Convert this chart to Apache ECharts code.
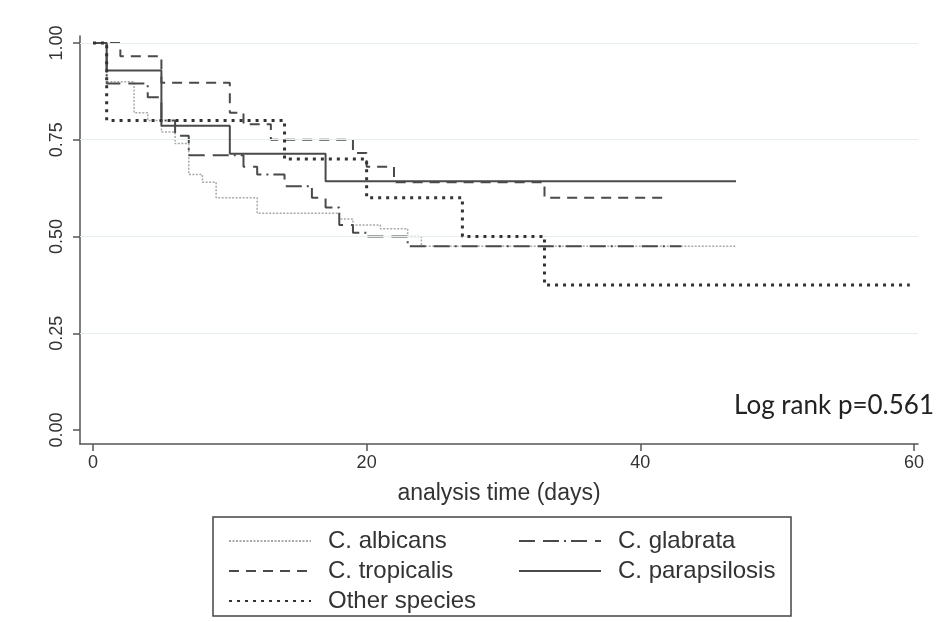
<!DOCTYPE html>
<html>
<head>
<meta charset="utf-8">
<script src="https://cdn.jsdelivr.net/npm/echarts@6/dist/echarts.min.js"></script>
<style>
html, body { margin: 0; padding: 0; background: #fff; }
#chart { width: 947px; height: 622px; }
</style>
</head>
<body>
<div id="chart"></div>
<script>
// Kaplan-Meier steps, [day, survival]
let albicans = [[0, 1], [1, 0.90], [3, 0.82], [4, 0.80], [5, 0.77], [6, 0.74], [7, 0.66], [8, 0.64], [9, 0.60], [12, 0.56], [18, 0.545], [19, 0.53], [21, 0.52], [23, 0.50], [24, 0.475], [47, 0.475]];
let glabrata = [[0, 1], [1, 0.895], [4, 0.86], [5, 0.80], [6, 0.76], [7, 0.71], [11, 0.68], [12, 0.66], [14, 0.63], [16, 0.60], [17, 0.575], [18, 0.53], [19, 0.51], [20, 0.50], [23, 0.475], [43, 0.475]];
let tropicalis = [[0, 1], [2, 0.966], [5, 0.897], [10, 0.82], [11, 0.79], [13, 0.75], [19, 0.716], [20, 0.68], [22, 0.64], [33, 0.60], [42, 0.60]];
let parapsilosis = [[0, 1], [1, 0.929], [5, 0.786], [10, 0.714], [17, 0.643], [47, 0.643]];
let otherSpecies = [[0, 1], [1, 0.80], [14, 0.70], [20, 0.60], [27, 0.50], [33, 0.375], [59.7, 0.375]];

let xTicks = [0, 20, 40, 60];
let yTicks = [0, 0.25, 0.5, 0.75, 1];
let gridValues = [0.25, 0.5, 0.75, 1];

let font = "'Liberation Sans', Arial, sans-serif";

function kmSeries(name, data, color, width, dash, z) {
    return {
        name: name,
        type: 'line',
        step: 'end',
        data: data,
        symbol: 'none',
        showSymbol: false,
        z: z,
        lineStyle: { color: color, width: width, type: dash },
        itemStyle: { color: color }
    };
}

let series = [
    kmSeries('C. albicans', albicans, '#a9a9a9', 1.5, [2, 1.5], 2),
    kmSeries('C. glabrata', glabrata, '#4a4a4a', 2, [16, 8, 16, 5, 2, 5], 3),
    kmSeries('C. tropicalis', tropicalis, '#4a4a4a', 2, [10, 7], 4),
    kmSeries('C. parapsilosis', parapsilosis, '#4a4a4a', 2, 'solid', 5),
    kmSeries('Other species', otherSpecies, '#333', 3, [3, 5], 6)
];

series[0].markLine = {
    silent: true,
    symbol: ['none', 'none'],
    label: { show: false },
    lineStyle: { color: '#e6eeee', width: 1, type: 'solid' },
    data: gridValues.map(v => ({ yAxis: v }))
};

let legendText = { fontSize: 24, color: '#333', fontFamily: font, padding: [0, 0, 0, 12], lineHeight: 20 };

let option = {
    animation: false,
    backgroundColor: '#fff',
    grid: { left: 80, right: 29, top: 36, bottom: 178, outerBoundsMode: 'none' },
    title: {
        text: 'Log rank p=0.561',
        right: 8,
        top: 388,
        textStyle: { fontFamily: 'Lato, sans-serif', fontSize: 26, fontWeight: 'normal', color: '#222' }
    },
    legend: [
        {
            left: 213, top: 517,
            height: 120,
            orient: 'vertical',
            data: ['C. albicans', 'C. tropicalis', 'Other species'],
            itemWidth: 82, itemHeight: 14, itemGap: 6,
            padding: [12, 293, 3, 15],
            borderColor: '#444', borderWidth: 1.5,
            selectedMode: false,
            itemStyle: { opacity: 0 },
            textStyle: Object.assign({ width: 170 }, legendText)
        },
        {
            left: 518, top: 529,
            height: 120,
            orient: 'vertical',
            data: ['C. glabrata', 'C. parapsilosis'],
            itemWidth: 82, itemHeight: 14, itemGap: 6,
            padding: 0,
            selectedMode: false,
            itemStyle: { opacity: 0 },
            textStyle: legendText
        }
    ],
    xAxis: {
        type: 'value',
        min: -0.95, max: 60.3,
        name: 'analysis time (days)',
        nameLocation: 'middle',
        nameGap: 38,
        nameTextStyle: { fontSize: 23, color: '#333', fontFamily: font },
        axisLine: { show: true, onZero: false, lineStyle: { color: '#555', width: 1.5 } },
        axisTick: { show: true, customValues: xTicks, length: 7, lineStyle: { color: '#555', width: 1.5 } },
        axisLabel: { customValues: xTicks, fontSize: 18, color: '#333', fontFamily: font, margin: 10 },
        splitLine: { show: false }
    },
    yAxis: {
        type: 'value',
        min: -0.036, max: 1.018,
        axisLine: { show: true, onZero: false, lineStyle: { color: '#555', width: 1.5 } },
        axisTick: { show: true, customValues: yTicks, length: 7, lineStyle: { color: '#555', width: 1.5 } },
        axisLabel: {
            customValues: yTicks, rotate: 90, fontSize: 18, color: '#333', fontFamily: font, margin: 14,
            formatter: v => v.toFixed(2)
        },
        splitLine: { show: false }
    },
    series: series
};

let chart = echarts.init(document.getElementById('chart'));
chart.setOption(option);
</script>
</body>
</html>
